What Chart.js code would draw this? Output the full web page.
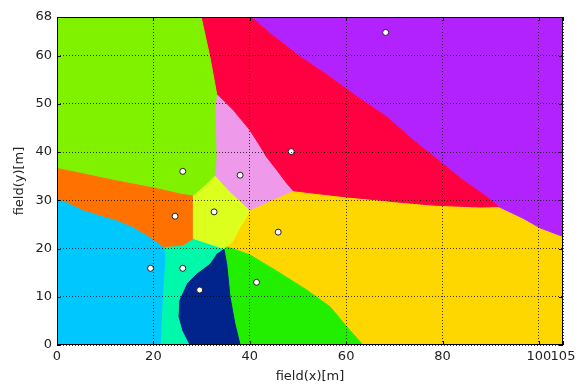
<!DOCTYPE html>
<html>
<head>
<meta charset="utf-8">
<script src="https://cdn.jsdelivr.net/npm/chart.js@4.4.0/dist/chart.umd.min.js"></script>
<style>
  html, body { margin: 0; padding: 0; background: #fff; }
</style>
</head>
<body>
<canvas id="field" width="586" height="385"></canvas>
<script>
// axis ticks
const xTicks = [0, 20, 40, 60, 80, 100, 105];
const yTicks = [0, 10, 20, 30, 40, 50, 60, 68];

// player positions [x, y] in metres
const players = [
  [68.2, 64.8], [48.6, 40.1], [26.1, 36.0], [38.0, 35.2], [32.6, 27.6], [24.5, 26.7],
  [45.9, 23.4], [19.4, 15.9], [26.1, 15.9], [41.4, 13.0], [29.6, 11.4]
];

// dominant regions, outlines (metres)
const regionTopLeft = [[0,68],[29.9,68],[31.7,59.8],[33.1,52.2],[32.8,49.4],[33.0,39.0],[32.8,35.2],[31.1,33.5],[28.3,31.1],[26.1,31.4],[19.9,32.8],[12.5,34.2],[5.4,35.7],[0,36.8]];
const regionRed = [[29.9,68],[40.3,68],[44.2,64.6],[50.4,59.8],[56.6,55.6],[62.2,51.5],[68.4,47.3],[73.9,42.5],[79.5,38.0],[84.2,34.2],[89.2,30.7],[91.6,28.7],[87.8,28.6],[78.0,29.0],[71.2,29.6],[66.3,30.1],[60.1,30.7],[53.9,31.4],[49.0,32.0],[47.7,33.5],[45.6,36.3],[43.5,39.0],[41.8,41.8],[40.0,44.6],[36.6,48.7],[33.1,52.2],[31.7,59.8]];
const regionPurple = [[40.3,68],[105,68],[105,22.5],[100.2,24.3],[96.7,26.3],[91.6,28.7],[89.2,30.7],[84.2,34.2],[79.5,38.0],[73.9,42.5],[68.4,47.3],[62.2,51.5],[56.6,55.6],[50.4,59.8],[44.2,64.6]];
const regionPink = [[33.1,52.2],[36.6,48.7],[40.0,44.6],[41.8,41.8],[43.5,39.0],[45.6,36.3],[47.7,33.5],[49.0,32.0],[44.0,29.8],[40.0,28.0],[38.6,29.3],[35.9,31.8],[32.8,35.2],[33.0,39.0],[32.8,49.4]];
const regionLime = [[32.8,35.2],[35.9,31.8],[38.6,29.3],[40.0,28.0],[39.0,25.9],[38.0,24.5],[36.4,21.4],[35.1,20.4],[34.6,20.0],[28.3,22.1],[28.3,31.1],[31.1,33.5]];
const regionOrange = [[0,36.8],[5.4,35.7],[12.5,34.2],[19.9,32.8],[26.1,31.4],[28.3,31.1],[28.3,22.1],[26.1,20.7],[22.1,20.4],[19.3,22.4],[15.8,24.5],[12.4,25.9],[5.5,28.0],[0,30.6]];
const regionBlue = [[0,0],[0,30.6],[5.5,28.0],[12.4,25.9],[15.8,24.5],[19.3,22.4],[22.1,20.4],[22.4,18.3],[22.1,13.5],[21.7,6.6],[21.4,0]];
const regionMint = [[22.1,20.4],[26.1,20.7],[28.3,22.1],[34.6,20.0],[33.1,19.0],[31.7,16.9],[29.0,14.9],[26.9,12.8],[25.3,9.3],[25.1,5.9],[25.9,3.0],[27.4,0],[21.4,0],[21.7,6.6],[22.1,13.5],[22.4,18.3]];
const regionNavy = [[34.6,20.0],[35.2,16.9],[35.9,10.0],[36.9,4.5],[38.0,0],[27.4,0],[25.9,3.0],[25.1,5.9],[25.3,9.3],[26.9,12.8],[29.0,14.9],[31.7,16.9],[33.1,19.0]];
const regionGreen = [[34.6,20.0],[35.1,20.4],[40.0,18.7],[46.3,14.9],[51.8,11.4],[56.7,7.9],[60.1,3.8],[63.5,0],[38.0,0],[36.9,4.5],[35.9,10.0],[35.2,16.9]];
const regionGold = [[40.0,28.0],[44.0,29.8],[49.0,32.0],[53.9,31.4],[60.1,30.7],[66.3,30.1],[71.2,29.6],[78.0,29.0],[87.8,28.6],[91.6,28.7],[96.7,26.3],[100.2,24.3],[105,22.5],[105,0],[63.5,0],[60.1,3.8],[56.7,7.9],[51.8,11.4],[46.3,14.9],[40.0,18.7],[35.1,20.4],[36.4,21.4],[38.0,24.5],[39.0,25.9]];

const regions = [
  { pts: regionTopLeft, color: '#80f200' },
  { pts: regionRed, color: '#ff0040' },
  { pts: regionPurple, color: '#b222ff' },
  { pts: regionPink, color: '#ee99ea' },
  { pts: regionLime, color: '#dcff1e' },
  { pts: regionOrange, color: '#ff7200' },
  { pts: regionBlue, color: '#00c8ff' },
  { pts: regionMint, color: '#00f8aa' },
  { pts: regionNavy, color: '#00238c' },
  { pts: regionGreen, color: '#22ee00' },
  { pts: regionGold, color: '#ffd700' }
];

const toXY = arr => arr.map(([x, y]) => ({ x, y }));

const datasets = regions.map(r => ({
  data: toXY(r.pts.concat([r.pts[0]])),
  showLine: true,
  fill: 'shape',
  backgroundColor: r.color,
  borderColor: r.color,
  borderWidth: 1,
  pointRadius: 0,
  tension: 0,
  order: 1
}));

// players on top of the regions
datasets.push({
  data: toXY(players),
  showLine: false,
  pointRadius: 3,
  pointBackgroundColor: '#fff',
  pointBorderColor: '#222',
  pointBorderWidth: 1,
  order: 0
});

// black frame with inward tick marks, like the original
const framePlugin = {
  id: 'frame',
  afterDraw(chart) {
    const { ctx, chartArea: a, scales } = chart;
    ctx.save();
    ctx.strokeStyle = '#000';
    ctx.lineWidth = 1;
    ctx.beginPath();
    xTicks.forEach(v => {
      const px = Math.round(scales.x.getPixelForValue(v)) + 0.5;
      ctx.moveTo(px, a.bottom); ctx.lineTo(px, a.bottom - 4);
      ctx.moveTo(px, a.top); ctx.lineTo(px, a.top + 4);
    });
    yTicks.forEach(v => {
      const py = Math.round(scales.y.getPixelForValue(v)) + 0.5;
      ctx.moveTo(a.left, py); ctx.lineTo(a.left + 4, py);
      ctx.moveTo(a.right, py); ctx.lineTo(a.right - 4, py);
    });
    ctx.stroke();
    ctx.strokeRect(a.left + 0.5, a.top + 0.5, a.right - a.left - 1, a.bottom - a.top - 1);
    ctx.restore();
  }
};

const font = { family: 'DejaVu Sans', size: 13 };

new Chart(document.getElementById('field'), {
  type: 'scatter',
  data: { datasets },
  options: {
    responsive: false,
    animation: false,
    layout: { padding: { left: 0, top: 17, right: 23, bottom: 0 } },
    plugins: { legend: { display: false }, tooltip: { enabled: false } },
    scales: {
      x: {
        type: 'linear',
        min: 0, max: 105,
        afterBuildTicks: s => { s.ticks = xTicks.map(v => ({ value: v })); },
        afterFit: s => { s.height = 40; },
        grid: { color: 'rgba(0,0,0,0.75)', drawTicks: false, z: 1 },
        border: { display: false, dash: [1, 2] },
        ticks: { autoSkip: false, maxRotation: 0, padding: 4, color: '#222', font },
        title: { display: true, text: 'field(x)[m]', color: '#222', font, padding: { top: 0, bottom: 1 } }
      },
      y: {
        type: 'linear',
        min: 0, max: 68,
        afterBuildTicks: s => { s.ticks = yTicks.map(v => ({ value: v })); },
        afterFit: s => { s.width = 57; },
        grid: { color: 'rgba(0,0,0,0.75)', drawTicks: false, z: 1 },
        border: { display: false, dash: [1, 2] },
        ticks: { autoSkip: false, padding: 5, color: '#222', font },
        title: { display: true, text: 'field(y)[m]', color: '#222', font, padding: { top: 12, bottom: 0 } }
      }
    }
  },
  plugins: [framePlugin]
});
</script>
</body>
</html>
